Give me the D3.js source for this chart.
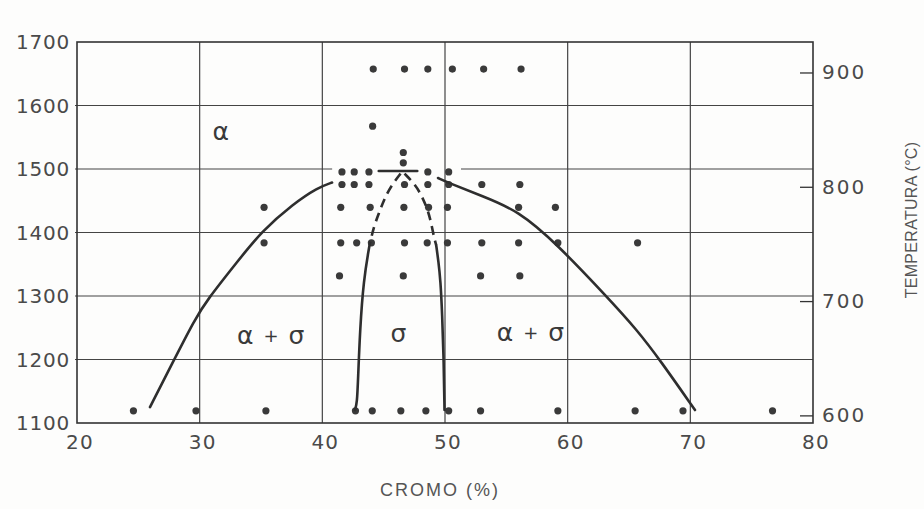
<!DOCTYPE html>
<html><head><meta charset="utf-8">
<script src="https://cdn.jsdelivr.net/npm/d3@7"></script>
<style>body{margin:0;background:#fdfdfc;overflow:hidden}</style>
</head><body><svg id="c" width="924" height="509"></svg>
<script>
// ---- axis ticks ----
const crTicks = [20, 30, 40, 50, 60, 70, 80];          // CROMO (%)
const tempFTicks = [1100, 1200, 1300, 1400, 1500, 1600, 1700]; // left axis (°F)
const tempCTicks = [600, 700, 800, 900];               // right axis (°C)

// ---- experimental points: one temperature (°C) per row, chromium % values ----
const rowTemps = [903, 853, 830, 821, 813, 802, 782, 751, 722, 604];
const rowCr = [
  [44.15, 46.7, 48.6, 50.6, 53.15, 56.2],
  [44.1],
  [46.6],
  [46.6],
  [41.6, 42.6, 43.8, 48.6, 50.3],
  [41.6, 42.6, 43.8, 46.7, 48.6, 50.3, 53.0, 56.1],
  [35.25, 41.5, 43.9, 46.65, 48.66, 50.2, 56.0, 59.0],
  [35.25, 41.5, 42.8, 44.0, 46.7, 48.55, 50.2, 53.0, 56.0, 59.2, 65.7],
  [41.4, 46.6, 52.9, 56.1],
  [24.6, 29.7, 35.4, 42.7, 44.07, 46.4, 48.44, 50.3, 52.9, 59.2, 65.5, 69.4, 76.7]
];

// ---- phase boundaries [Cr %, °C] ----
const leftBoundary = [[25.95,607.3],[27.74,645.0],[29.62,684.3],[30.60,700.9],[33.04,734.1],[35.08,761.3],[37.61,784.9],[39.65,799.4],[40.79,803.7]];
const rightBoundary = [[49.43,807.7],[50.33,803.3],[53.02,791.9],[55.95,779.3],[59.13,749.9],[63.21,703.6],[65.66,674.7],[67.53,648.4],[70.38,604.7]];
const sigmaLeftDashed = [[46.38,811.5],[45.56,800.1],[45.02,788.4],[44.61,776.8],[44.20,765.1],[43.85,749.1]];
const sigmaLeftSolid = [[43.85,749.1],[43.36,718.4],[43.07,674.7],[42.91,631.0],[42.83,610.8],[42.66,604.7]];
const sigmaRightDashed = [[46.70,811.5],[47.60,801.6],[48.14,791.3],[48.60,779.7],[48.88,768.1],[49.09,756.3],[49.28,749.1]];
const sigmaRightSolid = [[49.28,749.1],[49.47,734.2],[49.63,718.4],[49.77,689.3],[49.90,645.6],[49.96,604.7]];
const sigmaTop = [[44.6,813.8],[47.74,813.8]];
const gridGap1500 = [40.8, 51.3];   // the 1500 line is interrupted over the point cluster

// ---- phase labels ----
const labelText = ["α", "α + σ", "σ", "α + σ"];
const labelCr = [31.72, 35.79, 46.21, 56.96];
const labelT = [848.8, 670.3, 672.1, 672.9];

const svg = d3.select("#c");
const F2C = f => (f - 32) * 5 / 9;
const x = d3.scaleLinear().domain([20, 80]).range([77, 813]);
const yF = d3.scaleLinear().domain([1100, 1700]).range([423, 42]);
const yC = d3.scaleLinear().domain([F2C(1100), F2C(1700)]).range([423, 42]);

const ink = "#3a3a3a";
const grid = svg.append("g").attr("stroke", "#444").attr("stroke-width", 1.2);
// vertical gridlines
grid.selectAll("line.v").data(crTicks.slice(1, -1)).join("line")
  .attr("x1", d => x(d)).attr("x2", d => x(d)).attr("y1", yF(1700)).attr("y2", yF(1100));
// horizontal gridlines
tempFTicks.slice(1, -1).forEach(t => {
  const segs = t === 1500 ? [[20, gridGap1500[0]], [gridGap1500[1], 80]] : [[20, 80]];
  segs.forEach(s => grid.append("line")
    .attr("x1", x(s[0]) - (s[0] === 20 ? 2 : 0)).attr("x2", x(s[1]))
    .attr("y1", yF(t)).attr("y2", yF(t)));
});
// frame
svg.append("rect").attr("x", x(20)).attr("y", yF(1700))
  .attr("width", x(80) - x(20)).attr("height", yF(1100) - yF(1700))
  .attr("fill", "none").attr("stroke", "#333").attr("stroke-width", 1.6);

// tick labels
const tickFont = "'DejaVu Sans', sans-serif";
svg.append("g").selectAll("text").data(tempFTicks).join("text")
  .attr("x", 70).attr("y", d => yF(d)).attr("text-anchor", "end")
  .attr("dominant-baseline", "central").attr("font-family", tickFont)
  .attr("font-size", 20).attr("letter-spacing", 0.8).attr("fill", "#4a4a4a").text(d => d);
svg.append("g").selectAll("text").data(crTicks).join("text")
  .attr("x", d => x(d) + 3).attr("y", 442).attr("text-anchor", "middle")
  .attr("dominant-baseline", "central").attr("font-family", tickFont)
  .attr("font-size", 20).attr("letter-spacing", 1.2).attr("fill", "#4a4a4a").text(d => d);
// right axis (°C)
const rAxis = svg.append("g").attr("transform", `translate(${x(80)},0)`)
  .call(d3.axisRight(yC).tickValues(tempCTicks).tickSize(-13).tickPadding(9));
rAxis.select(".domain").remove();
rAxis.selectAll("line").attr("stroke", "#333").attr("stroke-width", 1.3);
rAxis.selectAll("text").attr("font-family", tickFont).attr("font-size", 20)
  .attr("letter-spacing", 2).attr("fill", "#4a4a4a");

// axis titles
svg.append("text").attr("x", 440).attr("y", 490).attr("text-anchor", "middle")
  .attr("dominant-baseline", "central").attr("font-family", "'Liberation Sans', Arial, sans-serif")
  .attr("font-size", 18).attr("letter-spacing", 2).attr("fill", "#555").text("CROMO (%)");
svg.append("text").attr("transform", "translate(911,220) rotate(-90)")
  .attr("text-anchor", "middle").attr("dominant-baseline", "central")
  .attr("font-family", "'Liberation Sans', Arial, sans-serif")
  .attr("font-size", 16).attr("letter-spacing", 0.3).attr("fill", "#555").text("TEMPERATURA (°C)");

// points
const pts = [];
rowTemps.forEach((t, i) => rowCr[i].forEach(c => pts.push([c, t])));
svg.append("g").selectAll("circle").data(pts).join("circle")
  .attr("cx", d => x(d[0])).attr("cy", d => yC(d[1])).attr("r", 3.6).attr("fill", ink);

// curves (B-spline smoothing through the read points)
const lineB = d3.line().x(d => x(d[0])).y(d => yC(d[1])).curve(d3.curveBasis);
const curves = svg.append("g").attr("fill", "none").attr("stroke", "#2e2e2e").attr("stroke-linecap", "round");
[leftBoundary, rightBoundary, sigmaTop, sigmaLeftSolid, sigmaRightSolid].forEach(c =>
  curves.append("path").attr("d", lineB(c)).attr("stroke-width", 2.6));
[sigmaLeftDashed, sigmaRightDashed].forEach(c =>
  curves.append("path").attr("d", lineB(c)).attr("stroke-width", 2.6)
    .attr("stroke-linecap", "butt").attr("stroke-dasharray", "9,6"));

// phase labels
labelText.forEach((t, i) => {
  const tx = svg.append("text").attr("x", x(labelCr[i])).attr("y", yC(labelT[i]))
    .attr("text-anchor", "middle").attr("dominant-baseline", "central")
    .attr("font-family", "'DejaVu Sans', sans-serif").attr("fill", "#3a3a3a");
  const parts = t.split(" ");
  parts.forEach((p, j) => {
    tx.append("tspan").attr("font-size", p === "+" ? 18 : 25)
      .attr("dx", j > 0 ? 10 : 0).text(p);
  });
});
</script></body></html>
